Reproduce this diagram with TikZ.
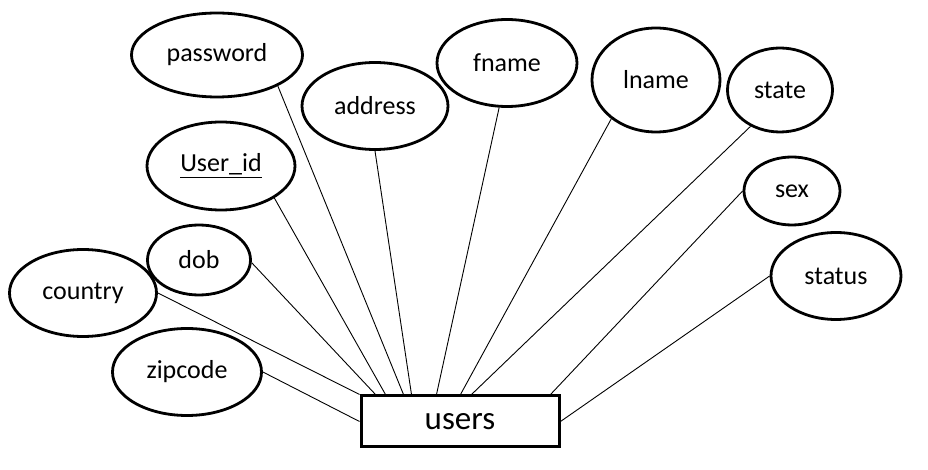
\documentclass[tikz,border=0pt]{standalone}
\usepackage{fontspec}
\setmainfont{Carlito}
\usetikzlibrary{shapes.geometric}
\begin{document}
\begin{tikzpicture}[x=0.5pt,y=-0.5pt,
   attr/.style={draw,ellipse,line width=1.4pt,inner sep=0pt,font=\fontsize{13}{15}\selectfont},
   entity/.style={draw,rectangle,line width=1.5pt,minimum width=99pt,minimum height=25.5pt,font=\fontsize{16.5}{20}\selectfont},
   link/.style={line width=.45pt}]
   \useasboundingbox (0,0) rectangle (928,470);
   \node[attr,minimum width=85.5pt,minimum height=42pt] (password) at (217,55) {password};
   \node[attr,minimum width=73pt,minimum height=43.5pt] (address) at (375,106) {address};
   \node[attr,minimum width=70pt,minimum height=43.5pt] (fname) at (507,63) {fname};
   \node[attr,minimum width=64pt,minimum height=52pt] (lname) at (656,80) {lname};
   \node[attr,minimum width=52.5pt,minimum height=42pt] (state) at (780,90) {state};
   \node[attr,minimum width=74pt,minimum height=44pt] (userid) at (221,166) {\underline{User\_id}};
   \node[attr,minimum width=48pt,minimum height=34pt] (sex) at (792,191) {sex};
   \node[attr,minimum width=51.5pt,minimum height=35pt] (dob) at (199,260) {dob};
   \node[attr,minimum width=73.5pt,minimum height=43.5pt] (country) at (83,293) {country};
   \node[attr,minimum width=65pt,minimum height=43.5pt] (status) at (836,276) {status};
   \node[attr,minimum width=74.5pt,minimum height=43.5pt] (zipcode) at (187,372) {zipcode};
   \node[entity] (users) at (460,421.5) {users};
   \coordinate[xshift=8pt] (udob) at (users.north west);
   \coordinate[xshift=13pt] (uuserid) at (users.north west);
   \coordinate[xshift=22pt] (upassword) at (users.north west);
   \coordinate[xshift=26pt] (uaddress) at (users.north west);
   \coordinate[xshift=38.5pt] (ufname) at (users.north west);
   \coordinate[xshift=50.5pt] (ulname) at (users.north west);
   \coordinate[xshift=56pt] (ustate) at (users.north west);
   \coordinate[xshift=95.5pt] (usex) at (users.north west);
   \draw[link] (zipcode.east) -- (users.west);
   \draw[link] (country.east) -- (users.north west);
   \draw[link] (dob.-3) -- (udob);
   \draw[link] (userid.-31) -- (uuserid);
   \draw[link] (password.-27) -- (upassword);
   \draw[link] (address.south) -- (uaddress);
   \draw[link] (fname.-100) -- (ufname);
   \draw[link] (lname.-139) -- (ulname);
   \draw[link] (state.-129) -- (ustate);
   \draw[link] (sex.west) -- (usex);
   \draw[link] (status.west) -- (users.east);
\end{tikzpicture}
\end{document}
